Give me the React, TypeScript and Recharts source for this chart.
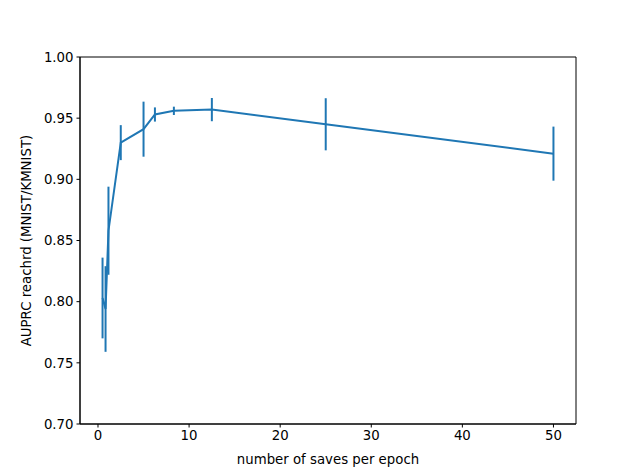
import React from 'react';
import { LineChart, Line, XAxis, YAxis, ErrorBar, ReferenceArea } from 'recharts';

// saves per epoch vs AUPRC reached, with std error bars
const savesPerEpoch = [0.5, 0.83, 1.15, 2.5, 5, 6.25, 8.33, 12.5, 25, 50];
const auprcMean = [0.803, 0.794, 0.858, 0.930, 0.941, 0.953, 0.956, 0.957, 0.945, 0.921];
const auprcErr = [0.033, 0.035, 0.036, 0.0143, 0.0225, 0.0058, 0.0034, 0.0095, 0.0213, 0.0221];

const xTicks = [0, 10, 20, 30, 40, 50];
const yTicks = [0.7, 0.75, 0.8, 0.85, 0.9, 0.95, 1.0];

const data = savesPerEpoch.map((x, i) => ({ x, y: auprcMean[i], err: auprcErr[i] }));

const BLUE = '#1f77b4';
const FONT = 'DejaVu Sans, sans-serif';
const tickStyle = { fontSize: 13.3, fill: '#000', fontFamily: FONT };

const App: React.FC = () => {
	return (
		<div style={{ position: 'absolute', left: 0, top: 0, width: 640, height: 476, background: '#fff' }}>
			<LineChart width={640} height={476} data={data} margin={{ top: 57, right: 64, bottom: 0, left: 0 }}>
				<XAxis
					dataKey="x"
					type="number"
					domain={[-1.975, 52.475]}
					ticks={xTicks}
					allowDataOverflow
					height={52}
					tickSize={3.5}
					tickMargin={3}
					stroke="#000"
					tick={tickStyle}
					label={{ value: 'number of saves per epoch', position: 'center', dy: 9, style: { fontSize: 13.3, fill: '#000', fontFamily: FONT } }}
				/>
				<YAxis
					type="number"
					domain={[0.7, 1.0]}
					ticks={yTicks}
					allowDataOverflow
					width={80}
					tickSize={3.5}
					tickMargin={3}
					stroke="#000"
					tick={tickStyle}
					tickFormatter={(v: number) => v.toFixed(2)}
					label={{ value: 'AUPRC reachrd (MNIST/KMNIST)', angle: -90, position: 'center', dx: -14, style: { fontSize: 13.3, fill: '#000', fontFamily: FONT, textAnchor: 'middle' } }}
				/>
				<ReferenceArea x1={-1.975} x2={52.475} y1={0.7} y2={1.0} fill="none" stroke="#000" strokeWidth={1} ifOverflow="visible" />
				<Line
					type="linear"
					dataKey="y"
					stroke={BLUE}
					strokeWidth={2}
					dot={false}
					activeDot={false}
					isAnimationActive={false}
				>
					<ErrorBar dataKey="err" width={0} stroke={BLUE} strokeWidth={2} direction="y" isAnimationActive={false} />
				</Line>
			</LineChart>
		</div>
	);
};

export default App;
